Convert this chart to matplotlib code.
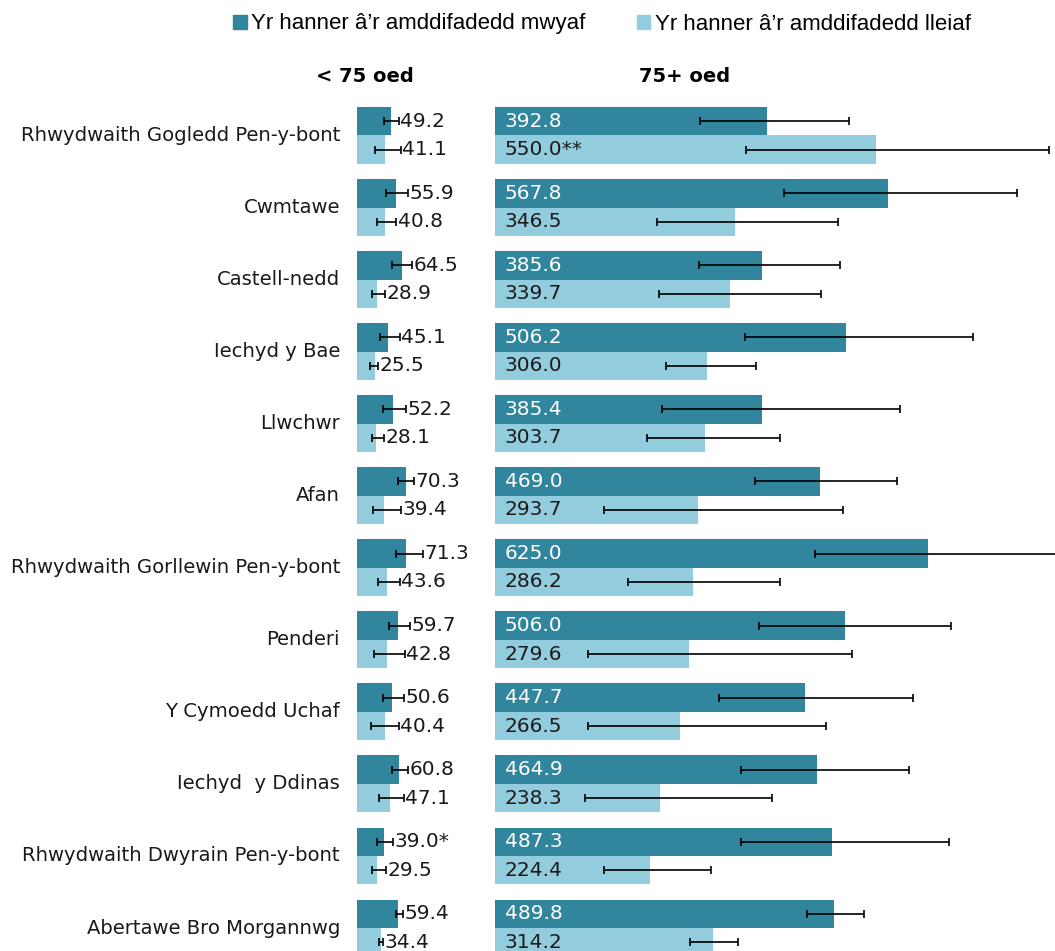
import matplotlib.pyplot as plt
import numpy as np
from matplotlib.patches import Patch

# data
areas = ["Rhwydwaith Gogledd Pen-y-bont", "Cwmtawe", "Castell-nedd", "Iechyd y Bae",
         "Llwchwr", "Afan", "Rhwydwaith Gorllewin Pen-y-bont", "Penderi",
         "Y Cymoedd Uchaf", "Iechyd  y Ddinas", "Rhwydwaith Dwyrain Pen-y-bont",
         "Abertawe Bro Morgannwg"]

u75_most = [49.2, 55.9, 64.5, 45.1, 52.2, 70.3, 71.3, 59.7, 50.6, 60.8, 39.0, 59.4]
u75_most_lo = [39.4, 41.4, 50.5, 33.0, 37.5, 59.0, 56.0, 46.0, 37.5, 50.5, 29.3, 56.0]
u75_most_hi = [60.2, 74.0, 79.4, 62.0, 70.8, 82.0, 95.0, 76.5, 68.0, 73.6, 52.4, 66.0]
u75_most_lab = ["49.2", "55.9", "64.5", "45.1", "52.2", "70.3", "71.3", "59.7", "50.6", "60.8", "39.0*", "59.4"]

u75_least = [41.1, 40.8, 28.9, 25.5, 28.1, 39.4, 43.6, 42.8, 40.4, 47.1, 29.5, 34.4]
u75_least_lo = [26.0, 29.0, 21.7, 19.0, 21.7, 23.0, 30.0, 24.5, 20.0, 32.0, 22.0, 32.0]
u75_least_hi = [63.0, 57.0, 40.4, 30.0, 39.0, 63.5, 62.0, 69.3, 60.6, 68.0, 41.4, 38.0]
u75_least_lab = ["41.1", "40.8", "28.9", "25.5", "28.1", "39.4", "43.6", "42.8", "40.4", "47.1", "29.5", "34.4"]

o75_most = [392.8, 567.8, 385.6, 506.2, 385.4, 469.0, 625.0, 506.0, 447.7, 464.9, 487.3, 489.8]
o75_most_lo = [296, 417, 294.6, 361, 241, 375, 462, 381, 323.5, 355, 355, 450.5]
o75_most_hi = [511, 754, 498, 690, 585, 580.5, 830, 658.5, 603.6, 598, 655.6, 533]
o75_most_lab = ["392.8", "567.8", "385.6", "506.2", "385.4", "469.0", "625.0", "506.0", "447.7", "464.9", "487.3", "489.8"]

o75_least = [550.0, 346.5, 339.7, 306.0, 303.7, 293.7, 286.2, 279.6, 266.5, 238.3, 224.4, 314.2]
o75_least_lo = [362.5, 234, 237, 247, 219.5, 157, 192, 134, 134, 130, 157, 281.6]
o75_least_hi = [800, 495, 471, 377, 411.5, 502.5, 411.5, 515.5, 478, 400, 312, 351]
o75_least_lab = ["550.0**", "346.5", "339.7", "306.0", "303.7", "293.7", "286.2", "279.6", "266.5", "238.3", "224.4", "314.2"]

dark = "#31859c"
light = "#93cddd"
W, H = 1055, 951

fig = plt.figure(figsize=(W / 100, H / 100), dpi=100)
y = np.arange(len(areas))
bh = 0.395
ylim = (11.319, -0.506)
ax_top = 1 - 99 / H

ax1 = fig.add_axes([357 / W, 0, 128 / W, ax_top])
ax2 = fig.add_axes([495 / W, 0, 560 / W, ax_top])

def draw(ax, most, mlo, mhi, least, llo, lhi, xmax):
    ax.barh(y - bh / 2, most, height=bh, color=dark)
    ax.barh(y + bh / 2, least, height=bh, color=light)
    m = np.array(most)
    l = np.array(least)
    ax.errorbar(m, y - bh / 2, xerr=[m - np.array(mlo), np.array(mhi) - m], fmt="none",
                ecolor="black", elinewidth=1.2, capsize=3, capthick=1.2)
    ax.errorbar(l, y + bh / 2, xerr=[l - np.array(llo), np.array(lhi) - l], fmt="none",
                ecolor="black", elinewidth=1.2, capsize=3, capthick=1.2)
    ax.set_xlim(0, xmax)
    ax.set_ylim(*ylim)
    ax.axis("off")

draw(ax1, u75_most, u75_most_lo, u75_most_hi, u75_least, u75_least_lo, u75_least_hi, 184.8)
draw(ax2, o75_most, o75_most_lo, o75_most_hi, o75_least, o75_least_lo, o75_least_hi, 808.7)

for i in range(len(areas)):
    ax1.text(u75_most_hi[i] + 2, i - bh / 2, u75_most_lab[i], ha="left", va="center",
             fontsize=14.5, color="#1a1a1a")
    ax1.text(u75_least_hi[i] + 2, i + bh / 2, u75_least_lab[i], ha="left", va="center",
             fontsize=14.5, color="#1a1a1a")
    ax2.text(14, i - bh / 2, o75_most_lab[i], ha="left", va="center",
             fontsize=14.5, color="white")
    ax2.text(14, i + bh / 2, o75_least_lab[i], ha="left", va="center",
             fontsize=14.5, color="#1a1a1a")
    ax1.text(-17 / 0.6925, i, areas[i], ha="right", va="center", fontsize=14.1,
             color="#1a1a1a", clip_on=False)

narrow = ["Liberation Sans", "DejaVu Sans"]
fig.text(365 / W, 1 - 77 / H, "< 75 oed", ha="center", va="center", fontsize=14,
         fontweight="bold", family=["DejaVu Sans"])
fig.text(685 / W, 1 - 77 / H, "75+ oed", ha="center", va="center", fontsize=14,
         fontweight="bold", family=["DejaVu Sans"])

handles = [Patch(color=dark), Patch(color=light)]
fig.legend(handles, ["Yr hanner â\u2019r amddifadedd mwyaf", "Yr hanner â\u2019r amddifadedd lleiaf"],
           loc="center", bbox_to_anchor=(602 / W, 1 - 24 / H), ncol=2, frameon=False,
           handlelength=0.6, handleheight=0.6, handletextpad=0.2, columnspacing=2.3,
           prop={"family": narrow, "size": 16})

fig.savefig("out.png", dpi=100)
